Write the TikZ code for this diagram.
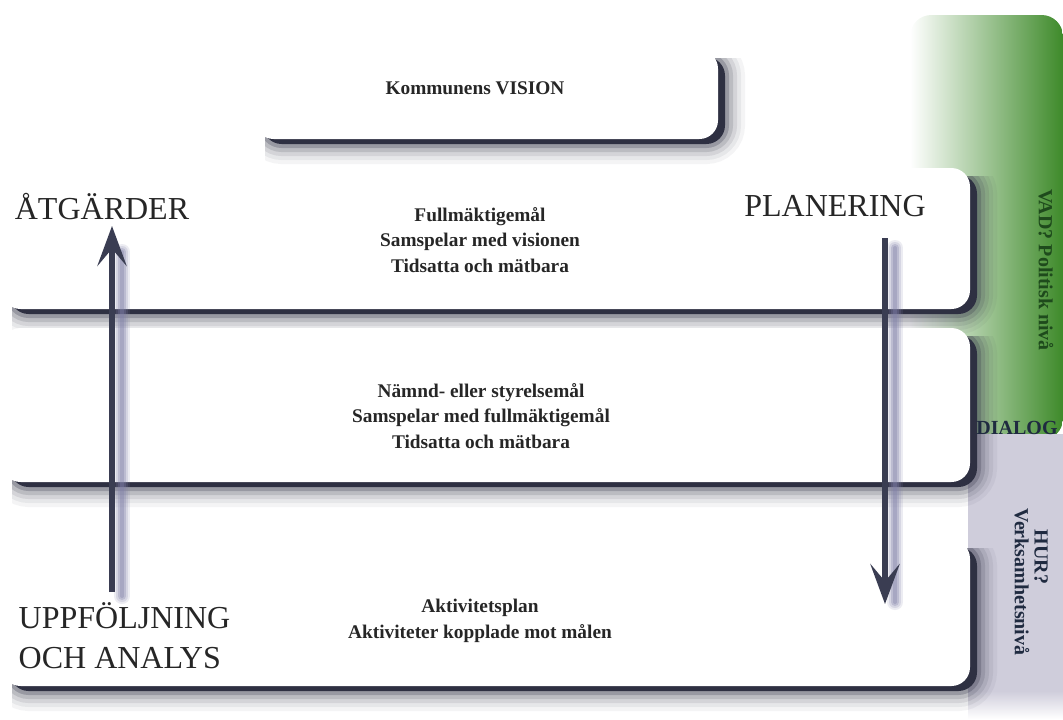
\documentclass[tikz,border=0pt]{standalone}
\usepackage{fontspec}
\setmainfont{Liberation Serif}
\usetikzlibrary{arrows.meta,calc,positioning}

\definecolor{shadowgrey}{HTML}{2E3042}
\definecolor{arrowgrey}{HTML}{3A3D52}
\definecolor{arrowshade}{HTML}{8080A8}
\definecolor{vaddark}{HTML}{3E8A2A}
\definecolor{vadmid}{HTML}{A9C878}
\definecolor{vadtext}{HTML}{1E4A1C}
\definecolor{hurgrey}{HTML}{CFCDDB}
\definecolor{hurtext}{HTML}{1F2A40}

\begin{document}
\begin{tikzpicture}[x=0.75pt,y=-0.75pt,
  layer/.style={fill=white,rounded corners=14pt},
  goaltext/.style={font=\fontsize{14.5}{19}\selectfont\bfseries,align=center,text=black!85},
  bigword/.style={font=\fontsize{24}{30}\selectfont,text=black!85},
  bandtext/.style={font=\fontsize{15}{17}\selectfont\bfseries},
  flow/.style={line width=4.5pt,draw=arrowgrey,-{Stealth[length=30pt,width=22pt,inset=13pt]}},
  flowshade/.style={draw=arrowshade,line cap=round}]
  \useasboundingbox (0,0) rectangle (1063,719);
  % band on the right
  \shade[left color=white,middle color=vadmid,right color=vaddark,rounded corners=16pt]
    (910,15) rectangle (1063,440);
  \fill[hurgrey] (968,434) rectangle (1063,692);
  \shade[top color=hurgrey,bottom color=white] (968,691) rectangle (1063,719);
  % the four layers with their shadows
  \foreach \xa/\ya/\xb/\yb in {255/50/718/139,2/168/970/309,2/328/970/482,2/540/970/686}{
    \begin{scope}
      \clip (\xa+10,\ya+8) rectangle (\xb+40,\yb+40);
      \foreach \w/\o in {30/0.05,24/0.07,18/0.1,12/0.15,6/0.25}
        \draw[shadowgrey,opacity=\o,line width=\w pt,rounded corners=14pt]
          (\xa+8,\ya+7) rectangle (\xb+7,\yb+5);
      \fill[shadowgrey,rounded corners=14pt] (\xa+8,\ya+7) rectangle (\xb+7,\yb+5);
    \end{scope}
    \fill[layer] (\xa,\ya) rectangle (\xb,\yb);
  }
  % texts in the layers
  \node[goaltext] (vision) at (475,88) {Kommunens VISION};
  \node[goaltext] (fmgoal) at (480,240) {Fullmäktigemål\\Samspelar med visionen\\Tidsatta och mätbara};
  \node[goaltext] (nmgoal) at (481,416) {Nämnd- eller styrelsemål\\Samspelar med fullmäktigemål\\Tidsatta och mätbara};
  \node[goaltext] (actplan) at (480,621) {Aktivitetsplan\\Aktiviteter kopplade mot målen};
  \node[bigword,anchor=base] (atg) at (102,219) {ÅTGÄRDER};
  \node[bigword,anchor=base] (plan) at (835,216) {PLANERING};
  \node[bigword,anchor=base west] (uppf) at (14,628) {UPPFÖLJNING};
  \node[bigword,anchor=base west] (och) at (14,668) {OCH ANALYS};
  % band texts
  \node[bandtext,text=vadtext,rotate=-90] (vad) at (1046,270) {VAD? Politisk nivå};
  \node[bandtext,text=hurtext] (dialog) at (1017,428) {DIALOG};
  \node[bandtext,text=hurtext,rotate=-90] (hur) at (1041,557) {HUR?};
  \node[bandtext,text=hurtext,rotate=-90] (verk) at (1022,582) {Verksamhetsnivå};
  % arrows
  \coordinate (upfoot) at (112,592);
  \coordinate (uphead) at (112,226);
  \coordinate (downtop) at (885,238);
  \coordinate (downhead) at (885,604);
  \foreach \w/\o in {12/0.15,9/0.2,6/0.3,3/0.35}{
    \draw[flowshade,line width=\w pt,opacity=\o] ($(upfoot)+(10,4)$) -- ($(uphead)+(10,26)$);
    \draw[flowshade,line width=\w pt,opacity=\o] ($(downtop)+(10,10)$) -- ($(downhead)+(10,-2)$);
  }
  \draw[flow] (upfoot) -- (uphead);
  \draw[flow] (downtop) -- (downhead);
\end{tikzpicture}
\end{document}
